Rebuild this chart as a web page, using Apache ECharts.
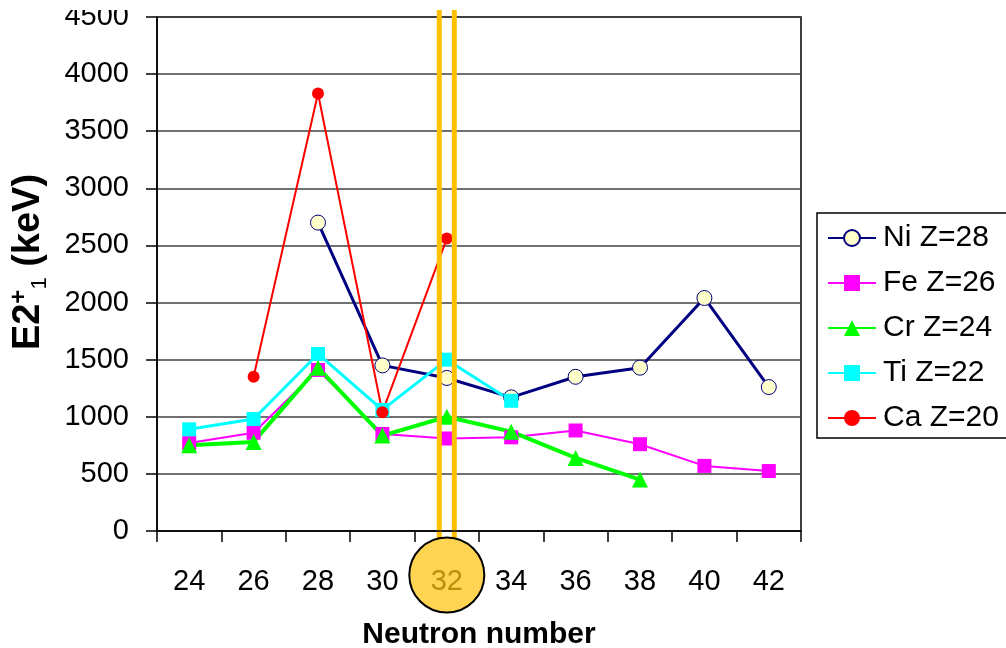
<!DOCTYPE html>
<html>
<head>
<meta charset="utf-8">
<title>E2+1 vs neutron number</title>
<script src="https://cdn.jsdelivr.net/npm/echarts@6/dist/echarts.min.js"></script>
<style>
  html, body { margin: 0; padding: 0; background: #fff; }
  #main { width: 1006px; height: 648px; }
</style>
</head>
<body>
<div id="main"></div>
<script>
// neutron number categories
var neutrons = ['24', '26', '28', '30', '32', '34', '36', '38', '40', '42'];
// E2+1 energies (keV), null = not measured
var ni = [null, null, 2700, 1450, 1340, 1170, 1350, 1430, 2040, 1260];
var fe = [770, 860, 1410, 850, 810, 820, 880, 760, 570, 525];
var cr = [750, 780, 1430, 835, 1000, 870, 640, 450, null, null];
var ti = [890, 980, 1550, 1060, 1500, 1140, null, null, null, null];
var ca = [null, 1350, 3830, 1040, 2560, null, null, null, null, null];
var yTicks = [0, 4500, 500]; // min, max, step
var magic = '32';

var font = '"Liberation Sans", Arial, sans-serif';
var chart = echarts.init(document.getElementById('main'));

function line(name, data, color, width, symbol, size, fill) {
  return {
    name: name,
    type: 'line',
    data: data,
    symbol: symbol,
    symbolSize: size,
    showSymbol: true,
    lineStyle: { color: color, width: width },
    itemStyle: { color: fill || color, borderColor: color, borderWidth: fill ? 1 : 0 },
    emphasis: { disabled: true },
    z: 2
  };
}

var option = {
  animation: false,
  backgroundColor: '#fff',
  grid: {
    left: 157, right: 205, top: 17, bottom: 117,
    outerBoundsMode: 'none',
    containLabel: false,
    show: true, borderColor: '#000', borderWidth: 1.5, backgroundColor: 'transparent'
  },
  legend: {
    orient: 'vertical',
    left: 817, top: 213,
    padding: [8, 9, 3, 10],
    itemGap: 11,
    itemWidth: 48,
    itemHeight: 20,
    borderColor: '#000',
    borderWidth: 1.5,
    backgroundColor: '#fff',
    textStyle: { fontFamily: font, fontSize: 30, color: '#000', lineHeight: 34, padding: [0, 0, 0, 2] },
    data: ['Ni Z=28', 'Fe Z=26', 'Cr Z=24', 'Ti Z=22', 'Ca Z=20']
  },
  xAxis: {
    type: 'category',
    data: neutrons,
    boundaryGap: true,
    z: 20,
    name: 'Neutron number',
    nameLocation: 'middle',
    nameGap: 89,
    nameTextStyle: { fontFamily: font, fontSize: 30, fontWeight: 'bold', color: '#000' },
    axisLine: { lineStyle: { color: '#000', width: 1.5 } },
    axisTick: { show: true, inside: false, length: 11, alignWithLabel: false, lineStyle: { color: '#000', width: 1.5 } },
    axisLabel: {
      margin: 36,
      fontFamily: font, fontSize: 29,
      color: function (v) { return v === magic ? '#B8900A' : '#000'; }
    },
    splitLine: { show: false }
  },
  yAxis: {
    type: 'value',
    min: yTicks[0], max: yTicks[1], interval: yTicks[2],
    name: '{m|E2}{sup|+}{sub|1}{m| (keV)}',
    nameLocation: 'middle',
    nameRotate: 90,
    nameGap: 106,
    nameTextStyle: {
      padding: [0, 0, 0, 24],
      rich: {
        m: { fontFamily: font, fontSize: 38, fontWeight: 'bold', color: '#000', lineHeight: 44 },
        sup: { fontFamily: font, fontSize: 24, fontWeight: 'bold', color: '#000', lineHeight: 24, verticalAlign: 'top' },
        sub: { fontFamily: font, fontSize: 22, color: '#000', lineHeight: 20, verticalAlign: 'bottom' }
      }
    },
    axisLine: { show: true, lineStyle: { color: '#000', width: 1.5 } },
    axisTick: { show: true, inside: false, length: 11, lineStyle: { color: '#000', width: 1.5 } },
    axisLabel: {
      margin: 28, fontFamily: font, fontSize: 29, color: '#000',
      formatter: function (v) { return String(v); }
    },
    splitLine: { show: true, lineStyle: { color: '#404040', width: 1.5 } }
  },
  series: [
    line('Ni Z=28', ni, '#000080', 3, 'circle', 15, '#FFFFCC'),
    line('Fe Z=26', fe, '#FF00FF', 2, 'rect', 14),
    line('Cr Z=24', cr, '#00FF00', 4, 'triangle', 16),
    line('Ti Z=22', ti, '#00FFFF', 3, 'rect', 14),
    line('Ca Z=20', ca, '#FF0000', 2, 'circle', 12)
  ]
};
chart.setOption(option);

// highlight of N=32: two orange lines and a circle behind the tick label
var cx = chart.convertToPixel({ xAxisIndex: 0 }, magic);
var y0 = chart.convertToPixel({ yAxisIndex: 0 }, 0);
var cy = y0 + 44, r = 37.5;
chart.setOption({
  graphic: [
    { type: 'line', z: 10, shape: { x1: cx - 7.5, y1: 0, x2: cx - 7.5, y2: cy }, style: { stroke: '#FFC000', lineWidth: 5 } },
    { type: 'line', z: 10, shape: { x1: cx + 7.5, y1: 0, x2: cx + 7.5, y2: cy }, style: { stroke: '#FFC000', lineWidth: 5 } },
    { type: 'circle', z: 15, shape: { cx: cx, cy: cy, r: r }, style: { fill: '#FFD452', stroke: '#000', lineWidth: 2 } },
    // top of the original picture is cut off
    { type: 'rect', z: 100, shape: { x: 0, y: 0, width: 1006, height: 10 }, style: { fill: '#fff' } }
  ]
});
</script>
</body>
</html>
